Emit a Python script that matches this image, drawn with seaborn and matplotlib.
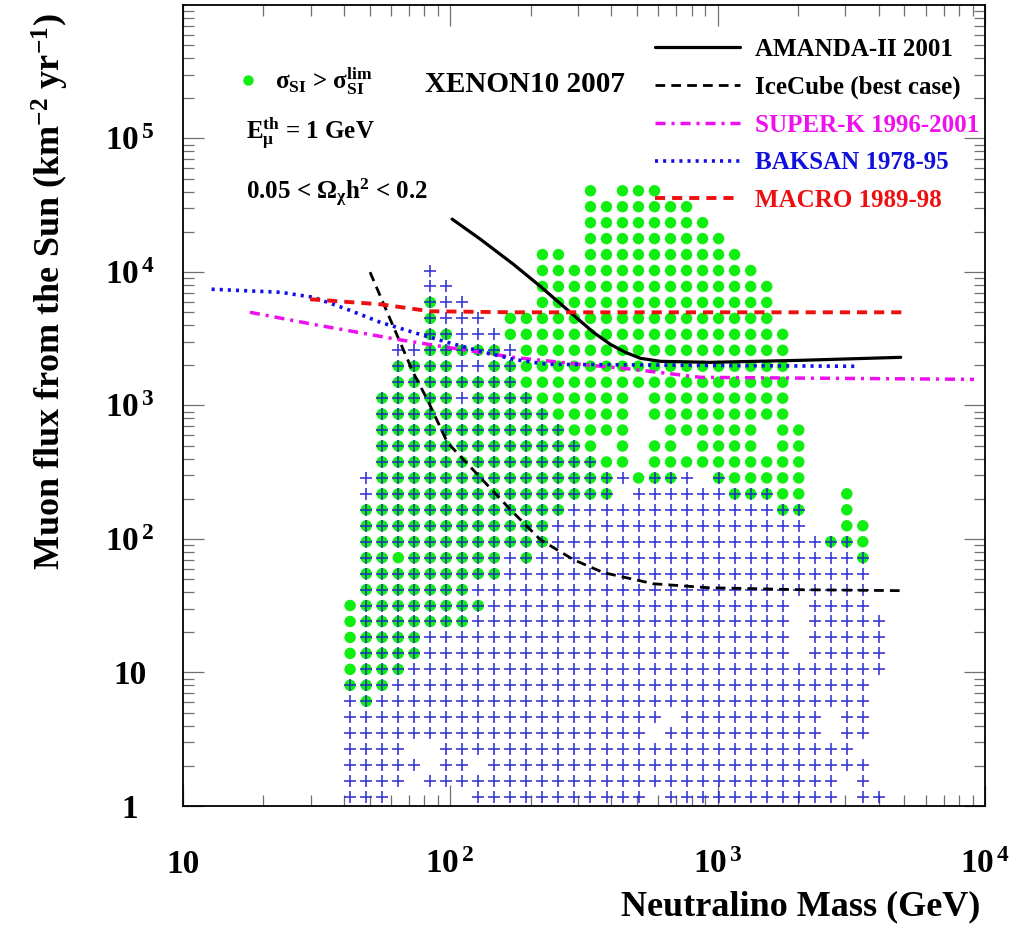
import numpy as np
import pandas as pd
import matplotlib
matplotlib.use("Agg")
import matplotlib.pyplot as plt
from matplotlib.lines import Line2D
from matplotlib import ticker
import seaborn as sns

# ---------------- data ----------------
# scan grid (column masses in GeV, row fluxes top -> bottom in km^-2 yr^-1)
mass_grid = [42.2, 48.5, 55.6, 63.9, 73.3, 84.2, 96.6, 110.9, 127.3, 146.2,
             167.8, 192.6, 221.2, 253.9, 291.4, 334.6, 384.1, 440.9, 506.1, 581.0,
             666.9, 765.7, 879.0, 1009, 1158, 1330, 1527, 1752, 2012, 2309,
             2651, 3043, 3494, 4011]
flux_grid = [40598, 30832, 23416, 17783, 13505, 10257, 7790, 5916, 4493, 3412,
             2591, 1968, 1494, 1135, 862.0, 654.6, 497.2, 377.6, 286.7, 217.8,
             165.4, 125.6, 95.39, 72.44, 55.02, 41.78, 31.73, 24.10, 18.30, 13.90,
             10.56, 8.017, 6.088, 4.624, 3.512, 2.667, 2.026, 1.538, 1.168]
# run-length rows, top to bottom: '.' empty, 'o' sigma_SI > limit,
# '+' other model, 'x' both
cell_runs = [
    "15. o . 3o 14.",
    "15. 7o 12.",
    "15. 8o 11.",
    "15. 9o 10.",
    "12. 2o . 10o 9.",
    "5. + 6. 14o 8.",
    "5. 2+ 5. 15o 7.",
    "5. x 2+ 4. 15o 7.",
    "5. x 3+ . 17o 7.",
    "5. 2x 3+ 18o 6.",
    "3. 2+ 5x + 17o 6.",
    "3. 4x 2+ 2x 17o 6.",
    "3. 8x 17o 6.",
    "2. 5x + 4x 6o . 9o 6.",
    "2. 11x 5o . 9o 6.",
    "2. 12x 4o 2. 6o . 2o 5.",
    "2. 13x o . o . 2o . 4o . 2o 5.",
    "2. 14x 2o . 10o 5.",
    ". + 15x + o 2x + . x 5o 5.",
    ". + 15x . 6+ 3x 2o 2. o 2.",
    ". 13x 13+ 2x 2. o 2.",
    ". 12x 16+ 2. 2o .",
    ". 12x 17+ 2x o .",
    ". 2x o 6x + x 20+ x .",
    ". 9x 23+ .",
    ". 7x 25+ .",
    "o 8x 19+ . 4+ .",
    "o 7x 20+ . 5+",
    "o 4x 23+ . 5+",
    "o 4x 23+ . 5+",
    "o 3x 30+",
    "3x 30+ .",
    "+ x 31+ .",
    "20+ . 9+ . 2+ .",
    "19+ . 10+ . 2+ .",
    "4+ 2. 26+ 2.",
    "5+ . 2+ . 24+ .",
    "4+ . 26+ . + .",
    "3+ 5. 11+ . 11+ . 2+",
]

amanda_mass = [101.6, 129.5, 172, 217, 281, 343, 397, 452, 515, 612, 941, 2047, 4842]
amanda_flux = [24900, 17620, 11450, 7820, 4990, 3535, 2872, 2500, 2255, 2142, 2105, 2180, 2295]
icecube_mass = [50.1, 59.6, 72.6, 82.0, 97.5, 129.5, 167.8, 217, 289, 374, 575, 918, 2047, 4932]
icecube_flux = [9970, 4425, 1771, 1111, 529, 289, 166, 99, 70, 56, 46.2, 43.2, 41.7, 41.0]
superk_mass = [17.8, 30.7, 63.2, 97.5, 172, 307, 484, 863, 9100]
superk_flux = [4990, 4055, 3130, 2727, 2295, 2033, 1866, 1625, 1570]
baksan_mass = [12.8, 23.1, 30.7, 41.1, 54.7, 72.6, 97.5, 129.5, 172, 231, 3342]
baksan_flux = [7430, 7050, 6470, 5260, 4200, 3535, 2973, 2548, 2218, 2033, 1965]
macro_mass = [29.9, 54.7, 84.1, 172, 4932]
macro_flux = [6250, 5730, 5080, 4990, 4990]

legend_labels = ["AMANDA-II 2001", "IceCube (best case)", "SUPER-K 1996-2001",
                 "BAKSAN 1978-95", "MACRO 1989-98"]
xtick_values = [10, 100, 1000, 10000]
xtick_labels = ["10", r"$10^{\,2}$", r"$10^{\,3}$", r"$10^{\,4}$"]
ytick_values = [1, 10, 100, 1000, 10000, 100000]
ytick_labels = ["1", "10", r"$10^{\,2}$", r"$10^{\,3}$", r"$10^{\,4}$", r"$10^{\,5}$"]

# ---------------- build cell table ----------------
def expand(runs):
    out = ""
    for tok in runs.split():
        if len(tok) > 1 and tok[:-1].isdigit():
            out += tok[-1] * int(tok[:-1])
        else:
            out += tok
    return out[:len(mass_grid)].ljust(len(mass_grid), ".")

records = []
for r, runs in enumerate(cell_runs):
    row = expand(runs)
    for k, ch in enumerate(row):
        if ch != ".":
            records.append({"mass": mass_grid[k], "flux": flux_grid[r], "kind": ch})
cells = pd.DataFrame(records)

# ---------------- style ----------------
sns.set_theme(style="ticks")
plt.rcParams.update({
    "font.family": ["Liberation Serif", "DejaVu Sans"],
    "font.weight": "bold",
    "axes.labelweight": "bold",
    "text.color": "black",
    "axes.labelcolor": "black",
    "xtick.labelcolor": "black",
    "ytick.labelcolor": "black",
    "mathtext.fontset": "custom",
    "mathtext.rm": "Liberation Serif:bold",
    "mathtext.it": "Liberation Serif:bold",
    "mathtext.bf": "Liberation Serif:bold",
    "mathtext.default": "bf",
    "axes.linewidth": 1.3,
    "axes.edgecolor": "black",
})

GREEN = "#11ee11"
CROSS = "#2020cc"

fig = plt.figure(figsize=(10.36, 9.26), dpi=100)
ax = fig.add_axes([0.1766, 0.1296, 0.7741, 0.8650])
ax.set_xscale("log")
ax.set_yscale("log")
ax.set_xlim(10, 1e4)
ax.set_ylim(1, 1e6)

green = cells[cells["kind"].isin(["o", "x"])]
cross = cells[cells["kind"].isin(["+", "x"])]
sns.scatterplot(data=green, x="mass", y="flux", marker="o", s=68, color=GREEN,
                edgecolor="none", linewidth=0, ax=ax, zorder=2)
sns.scatterplot(data=cross, x="mass", y="flux", marker="+", s=85, color=CROSS,
                linewidth=1.2, alpha=0.88, ax=ax, zorder=3)

line_specs = [
    (amanda_mass, amanda_flux, "black", 2.3, "-"),
    (icecube_mass, icecube_flux, "black", 2.0, (0, (3.5, 2.2))),
    (superk_mass, superk_flux, "#ee10ee", 2.5, (0, (2.9, 1.7, 0.9, 1.7))),
    (baksan_mass, baksan_flux, "#1010e6", 2.6, (0, (0.85, 1.4))),
    (macro_mass, macro_flux, "#ee1010", 2.8, (0, (2.6, 1.8))),
]
handles = []
for m, f, c, lw, ls in line_specs:
    sns.lineplot(x=m, y=f, ax=ax, color=c, linewidth=lw, linestyle=ls,
                 sort=False, estimator=None, zorder=4)
    handles.append(ax.lines[-1])

text_colors = ["black", "black", "#ee10ee", "#1010dd", "#ee1010"]
leg = ax.legend(handles=handles, labels=legend_labels, loc="upper left",
                bbox_to_anchor=(0.5885, 0.9593), frameon=False, fontsize=18,
                handlelength=3.4, handletextpad=0.6, labelspacing=0.59,
                borderaxespad=0, borderpad=0)
for t, c in zip(leg.get_texts(), text_colors):
    t.set_color(c)
ax.add_artist(leg)

dot_handle = Line2D([], [], marker="o", ls="", color=GREEN, markersize=6.5)
ax.legend(handles=[dot_handle], labels=[r"$\sigma_{SI}$ > $\sigma_{SI}^{lim}$"],
          loc="upper left", bbox_to_anchor=(0.0655, 0.925), frameon=False,
          fontsize=18, handlelength=1.0, handletextpad=0.58,
          borderaxespad=0, borderpad=0)

ax.text(0.302, 0.901, "XENON10 2007", transform=ax.transAxes, fontsize=21,
        va="center", ha="left")
ax.text(0.0786, 0.840, r"$E_{\mu}^{th}$ = 1 GeV", transform=ax.transAxes,
        fontsize=18, va="center", ha="left")
ax.text(0.0786, 0.765, r"0.05 < $\Omega_{\chi}h^{2}$ < 0.2", transform=ax.transAxes,
        fontsize=18, va="center", ha="left")

# ticks
ax.xaxis.set_major_locator(ticker.FixedLocator(xtick_values))
ax.xaxis.set_major_formatter(ticker.FixedFormatter(xtick_labels))
ax.yaxis.set_major_locator(ticker.FixedLocator(ytick_values))
ax.yaxis.set_major_formatter(ticker.FixedFormatter(ytick_labels))
for axis in (ax.xaxis, ax.yaxis):
    axis.set_minor_locator(ticker.LogLocator(base=10, subs=np.arange(2, 10) * 1.0, numticks=100))
    axis.set_minor_formatter(ticker.NullFormatter())
ax.tick_params(which="both", direction="in", top=True, right=True,
               color="#707070", width=0.9)
ax.tick_params(which="major", length=15)
ax.tick_params(which="minor", length=8)
ax.tick_params(axis="x", which="major", pad=48, labelsize=24)
ax.tick_params(axis="y", which="major", pad=38, labelsize=24)
for lab in ax.get_xticklabels():
    lab.set_va("baseline")
for lab in ax.get_yticklabels():
    lab.set_ha("center")

ax.set_xlabel("Neutralino Mass (GeV)", fontsize=26, ha="right")
ax.xaxis.set_label_coords(0.994, -0.105)
ax.set_ylabel(r"Muon flux from the Sun (km$^{-2}$ yr$^{-1}$)", fontsize=26, ha="right")
ax.yaxis.set_label_coords(-0.14, 0.99)

fig.savefig("out.png", dpi=100, facecolor="white")
